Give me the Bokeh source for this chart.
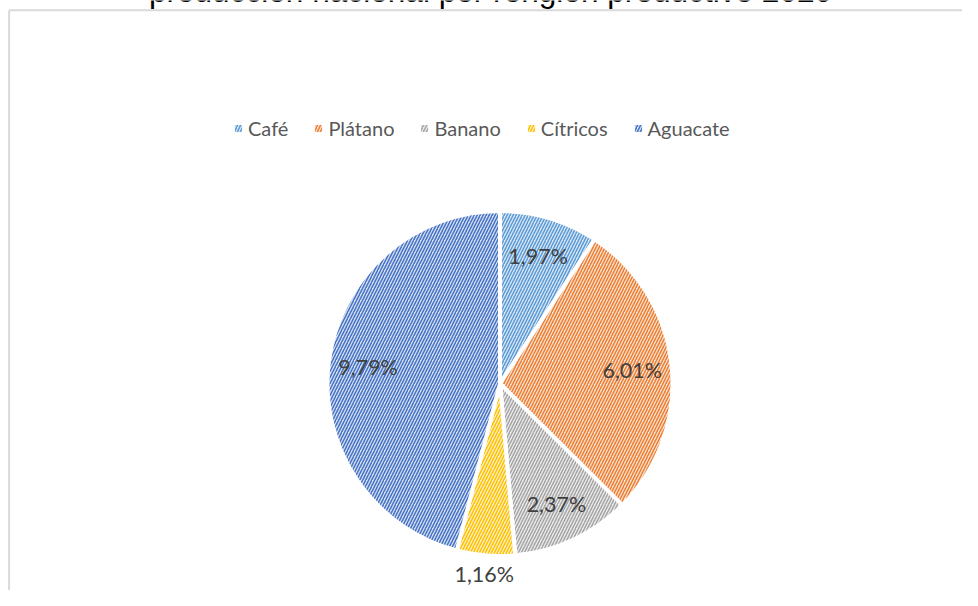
import numpy as np
from bokeh.plotting import figure
from bokeh.models import ColumnDataSource, Legend, LegendItem, Label, Range1d
from bokeh.core.properties import value
from bokeh.embed import file_html
from bokeh.resources import INLINE

# ---- data ----
title_text = "producción nacional por renglón productivo 2020"
categories = ["Café", "Plátano", "Banano", "Cítricos", "Aguacate"]
values = [1.97, 6.01, 2.37, 1.16, 9.79]
value_labels = ["1,97%", "6,01%", "2,37%", "1,16%", "9,79%"]
fill_colors = ["#dbe7f5", "#fbe3d3", "#ececec", "#fff1c9", "#d8e1f3"]
hatch_colors = ["#5b9bd5", "#ed7d31", "#a5a5a5", "#ffc000", "#4472c4"]

# ---- layout (pixels) ----
W, H = 962, 590
def fy(page_y):
    return H - page_y

cx, cy = 499.5, fy(383.0)
line_w = 4
R = 170.5 + line_w / 2

vals = np.array(values, dtype=float)
frac = vals / vals.sum()
cum = np.concatenate([[0.0], np.cumsum(frac)])
start = np.pi / 2 - 2 * np.pi * cum[:-1]
end = np.pi / 2 - 2 * np.pi * cum[1:]
mid = (start + end) / 2
lr = np.where(frac < 0.06, 1.12 * 170.5, 0.78 * 170.5)
lx = cx + lr * np.cos(mid)
ly = cy + lr * np.sin(mid)

src = ColumnDataSource(dict(cat=categories, start=start, end=end,
                            fill=fill_colors, hatch=hatch_colors,
                            lab=value_labels, lx=lx, ly=ly))

p = figure(width=W, height=H, x_range=Range1d(0, W), y_range=Range1d(0, H),
           output_backend="svg", toolbar_location=None, min_border=0,
           x_axis_location=None, y_axis_location=None,
           outline_line_color=None, background_fill_color="white",
           border_fill_color="white")
p.grid.visible = False

# chart border (left and top edges visible)
p.segment(x0=[8.6, 8.6], y0=[fy(9.7), fy(9.7)], x1=[8.6, W + 20], y1=[-10, fy(9.7)],
          line_color="#d9d9d9", line_width=2)

# title (partially cut off at the top)
p.add_layout(Label(x=490, y=fy(2.7) + 12, text=title_text, text_align="center",
                   text_baseline="alphabetic", text_font="Liberation Sans",
                   text_font_size="31.6px", text_color="#000000"))

r = p.wedge(x=cx, y=cy, radius=R, start_angle="start", end_angle="end",
            direction="clock", fill_color="fill", hatch_color="hatch",
            hatch_pattern="/", hatch_scale=6, hatch_weight=1.5,
            line_color="white", line_width=line_w, source=src)

p.text(x="lx", y="ly", text="lab", source=src, text_align="center",
       text_baseline="middle", text_font=value("Lato"),
       text_font_size="21.5px", text_color="#404040")

items = [LegendItem(label=c, renderers=[r], index=i) for i, c in enumerate(categories)]
legend = Legend(items=items, orientation="horizontal", location=(231, fy(140)),
                glyph_width=14, glyph_height=14, label_text_font="Lato",
                label_text_font_size="20px", label_text_color="#595959",
                label_standoff=3, spacing=23, padding=0, margin=0,
                border_line_color=None, background_fill_alpha=0)
p.add_layout(legend)

open("out.html", "w").write(file_html(p, INLINE))
